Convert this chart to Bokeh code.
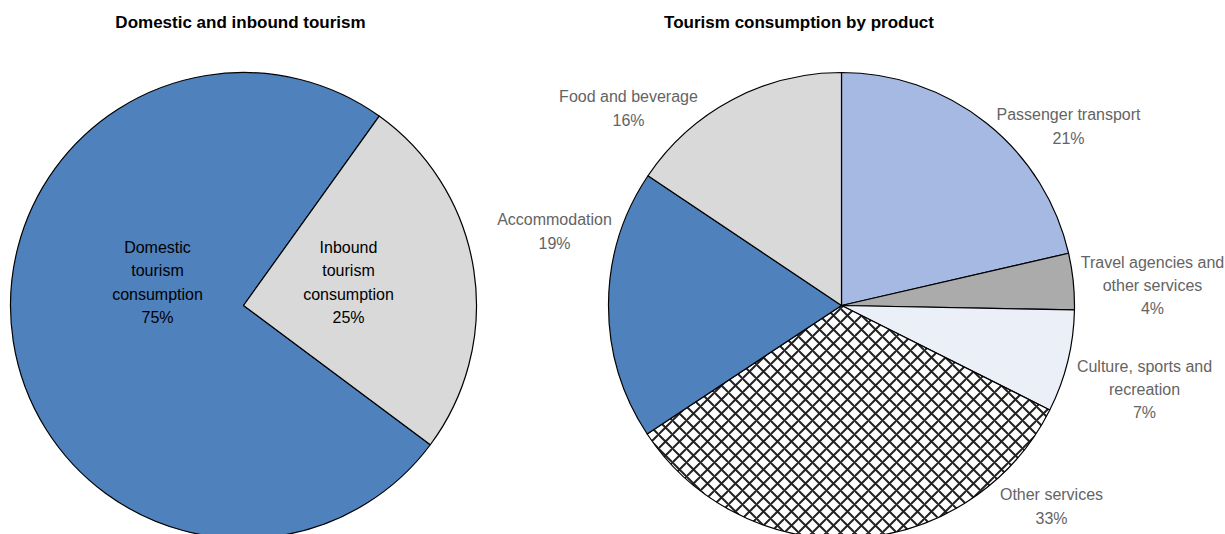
import numpy as np
from bokeh.plotting import figure
from bokeh.models import Range1d, ColumnDataSource
from bokeh.core.properties import value
from bokeh.embed import file_html
from bokeh.resources import INLINE

# ---------------- data ----------------
left_title = "Domestic and inbound tourism"
left_labels = ["Domestic\ntourism\nconsumption", "Inbound\ntourism\nconsumption"]
left_values = [74.7, 25.3]

right_title = "Tourism consumption by product"
right_labels = ["Passenger transport", "Travel agencies and\nother services",
                "Culture, sports and\nrecreation", "Other services",
                "Accommodation", "Food and beverage"]
right_values = [21.4, 3.9, 7.1, 33.3, 18.7, 15.6]

# ---------------- style ----------------
W, H = 1225, 534
FONT = "Liberation Sans"
left_colors = ["#4F81BD", "#D9D9D9"]
right_colors = ["#A6B9E2", "#ABABAB", "#EBEFF7", "#FFFFFF", "#4F81BD", "#D9D9D9"]
right_hatch = ["blank", "blank", "blank", "diagonal_cross", "blank", "blank"]

# pie geometry in window pixel coordinates (x right, y up from bottom of window 534)
def sy(y):
    return 534 - y

left_center = (243, sy(305))
right_center = (841, sy(305))
R = 233
left_start_deg = 126.7   # clockwise from north, first slice start
right_start_deg = 0.0
left_label_pos = [(157, sy(282)), (348, sy(282))]
right_label_pos = [(1068, sy(126)), (1152, sy(285)), (1144, sy(389)),
                   (1051, sy(506)), (554, sy(231)), (628, sy(108))]

p = figure(width=W, height=H, output_backend="svg", toolbar_location=None,
           x_axis_type=None, y_axis_type=None,
           x_range=Range1d(0, W), y_range=Range1d(534 - H, 534),
           min_border=0, outline_line_color=None)
p.grid.visible = False
p.background_fill_color = "white"
p.border_fill_color = "white"


def wedges(values, start_deg):
    v = np.array(values, dtype=float)
    frac = v / v.sum()
    cum = np.concatenate([[0], np.cumsum(frac)])
    th1 = np.deg2rad(start_deg) + cum[:-1] * 2 * np.pi
    th2 = np.deg2rad(start_deg) + cum[1:] * 2 * np.pi
    # convert clockwise-from-north to bokeh angle
    return np.pi / 2 - th1, np.pi / 2 - th2, frac


def pie(center, values, colors, start_deg, hatch=None):
    s, e, frac = wedges(values, start_deg)
    src = ColumnDataSource(dict(x=[center[0]] * len(values), y=[center[1]] * len(values),
                                s=s, e=e, c=colors,
                                h=hatch if hatch else ["blank"] * len(values)))
    p.wedge(x="x", y="y", radius=R, start_angle="s", end_angle="e", direction="clock",
            fill_color="c", line_color="black", line_width=1.2,
            hatch_pattern="h", hatch_color="#222222", hatch_scale=14, hatch_weight=2.0,
            source=src)
    return frac


lf = pie(left_center, left_values, left_colors, left_start_deg)
rf = pie(right_center, right_values, right_colors, right_start_deg, right_hatch)

left_texts = [f"{lab}\n{round(v):.0f}%" for lab, v in zip(left_labels, left_values)]
right_texts = [f"{lab}\n{round(v):.0f}%" for lab, v in zip(right_labels, right_values)]

p.text(x=[q[0] for q in left_label_pos], y=[q[1] for q in left_label_pos], text=left_texts,
       text_align="center", text_baseline="middle", text_font=value(FONT),
       text_font_size="16px", text_color="black", text_line_height=1.375)
p.text(x=[q[0] for q in right_label_pos], y=[q[1] for q in right_label_pos], text=right_texts,
       text_align="center", text_baseline="middle", text_font=value(FONT),
       text_font_size="16px", text_color="#646464", text_line_height=1.375)

p.text(x=[240, 798.5], y=[sy(22), sy(22)], text=[left_title, right_title],
       text_align="center", text_baseline="middle", text_font=value(FONT),
       text_font_size="17px", text_font_style="bold", text_color="black")

open("out.html", "w").write(file_html(p, INLINE))
